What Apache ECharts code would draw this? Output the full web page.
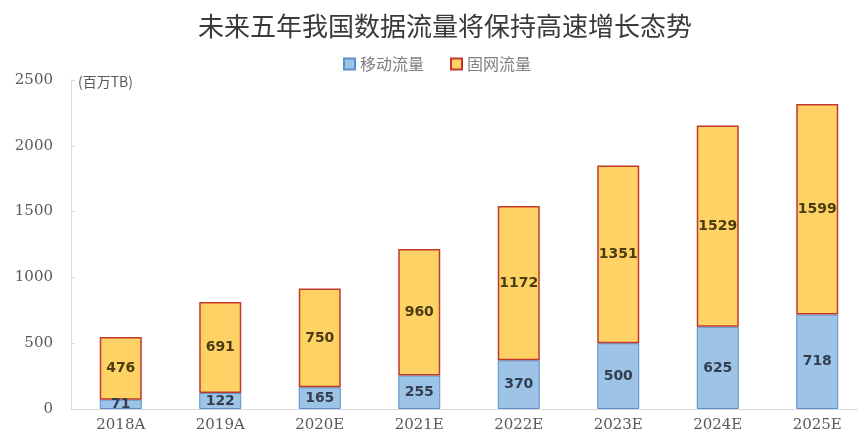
<!DOCTYPE html>
<html><head><meta charset="utf-8">
<script src="https://cdn.jsdelivr.net/npm/echarts@6/dist/echarts.min.js"></script>
<style>html,body{margin:0;padding:0;background:#fff;overflow:hidden;width:858px;height:436px}#c{width:880px;height:436px}</style>
</head><body><div id="c"></div>
<script>
const categories = ['2018A','2019A','2020E','2021E','2022E','2023E','2024E','2025E'];
const mobile = [71,122,165,255,370,500,625,718];
const fixed = [476,691,750,960,1172,1351,1529,1599];
const yTicks = [0,500,1000,1500,2000,2500];
const titleText = '未来五年我国数据流量将保持高速增长态势';
const unitText = '(百万TB)';

const chart = echarts.init(document.getElementById('c'));
chart.setOption({
  animation: false,
  backgroundColor: '#fff',
  title: {
    text: titleText, left: 440, top: 8, textAlign: 'center',
    textStyle: {fontFamily: 'Noto Sans CJK SC', fontSize: 26, fontWeight: 'normal', color: '#3a3a3a'}
  },
  legend: {
    top: 51, left: 338, itemWidth: 11, itemHeight: 11, itemGap: 26, icon: 'rect',
    textStyle: {fontFamily: 'Noto Sans CJK SC', fontSize: 16, color: '#7f7f7f'},
    data: ['移动流量','固网流量']
  },
  grid: {left: 71, top: 80, width: 796, bottom: 27},
  xAxis: {
    type: 'category', data: categories,
    axisLine: {lineStyle: {color: '#d9d9d9'}},
    axisTick: {show: false},
    axisLabel: {color: '#595959', fontSize: 15, fontFamily: 'DejaVu Serif', margin: 9}
  },
  yAxis: {
    type: 'value', min: 0, max: 2500, interval: 500,
    name: unitText, nameLocation: 'end', nameGap: -9,
    nameTextStyle: {align: 'left', padding: [0,0,0,7], color: '#595959', fontSize: 14, fontFamily: 'Noto Sans CJK SC'},
    axisLine: {show: true, lineStyle: {color: '#d9d9d9'}},
    axisTick: {show: true, inside: true, length: 4, lineStyle: {color: '#d9d9d9'}},
    splitLine: {show: false},
    axisLabel: {color: '#595959', fontSize: 15, fontFamily: 'DejaVu Serif', margin: 18,
      formatter: v => yTicks.includes(v) ? String(v) : ''}
  },
  series: [
    {
      name: '移动流量', type: 'bar', stack: 'a', barWidth: 42, data: mobile,
      itemStyle: {color: '#9dc3e6', borderColor: '#5b8fc9', borderWidth: 1},
      label: {show: true, position: 'inside', color: '#333f50', fontSize: 14, fontWeight: 'bold', fontFamily: 'DejaVu Sans'}
    },
    {
      name: '固网流量', type: 'bar', stack: 'a', barWidth: 42, data: fixed,
      itemStyle: {color: '#ffd265', borderColor: '#c0392b', borderWidth: 1.5},
      label: {show: true, position: 'inside', color: '#4a3c10', fontSize: 14, fontWeight: 'bold', fontFamily: 'DejaVu Sans'}
    }
  ]
});
</script></body></html>
